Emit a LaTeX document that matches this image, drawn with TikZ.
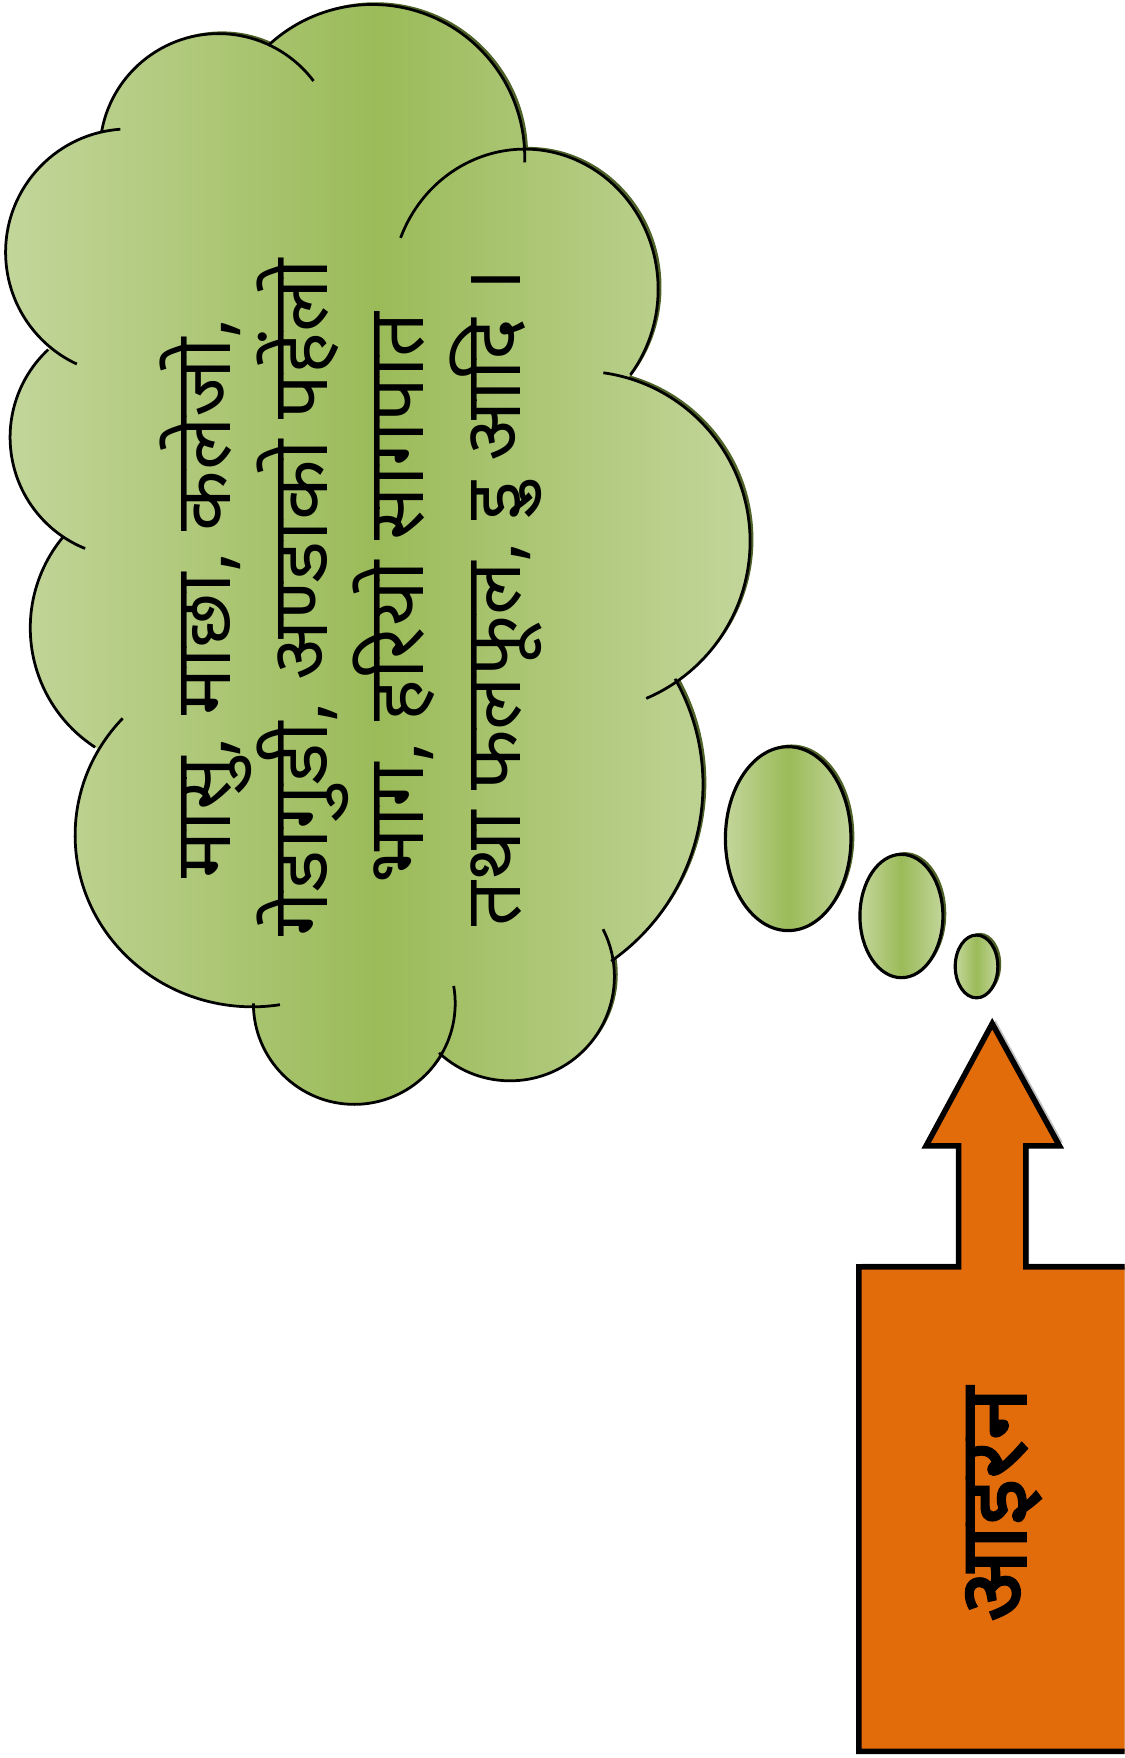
\documentclass[tikz,border=0pt]{standalone}
\usepackage{fontspec}
\newfontfamily\deva[Script=Devanagari]{Noto Sans}
\newfontfamily\devabold[Script=Devanagari, FakeBold=2.5]{Noto Sans}
\definecolor{cloudlight}{HTML}{C3D69B}
\definecolor{clouddark}{HTML}{9BBB59}
\definecolor{cloudshadow}{HTML}{4F6228}
\definecolor{ironorange}{HTML}{E36C0A}
\definecolor{ironshadow}{HTML}{BFBFBF}

\begin{document}
\begin{tikzpicture}[x=0.1mm, y=-0.1mm,
  lobe/.style={line width=0.7pt},
  puff/.style={draw=black, line width=0.8pt, left color=cloudlight, right color=cloudlight, middle color=clouddark}]
  \clip (0,0) rectangle (1003,1568);
  \def\lobes{(195,136) circle (106) (332,140) circle (136) (468,258) ellipse [x radius=119, y radius=125]
    (517,483) circle (152) (435,700) circle (192) (455,871) circle (93) (316,895) circle (90)
    (225,745) ellipse [x radius=158, y radius=153] (154,560) circle (127) (116,390) circle (107)
    (115,225) circle (110) (320,480) circle (210) (250,290) circle (105)}
  \def\ironpath{(766,1562) -- (766,1130) -- (855,1130) -- (855,1022) -- (826,1022) -- (885,913)
    -- (945,1022) -- (915,1022) -- (915,1130) -- (1012,1130) -- (1012,1562) -- cycle}
  \fill[cloudshadow, shift={(3,-2)}] \lobes;
  \path[left color=cloudlight, right color=cloudlight, middle color=clouddark] \lobes;
  \draw[lobe] ([shift={(115,225)}]-94:110) arc[start angle=-94, end angle=-245, radius=110];
  \draw[lobe] ([shift={(116,390)}]-133:107) arc[start angle=-133, end angle=-248, radius=107];
  \draw[lobe] ([shift={(154,560)}]-140:127) arc[start angle=-140, end angle=-237, radius=127];
  \draw[lobe] ([shift={(225,745)}]-137:158 and 153) arc[start angle=-137, end angle=-279, x radius=158, y radius=153];
  \draw[lobe] ([shift={(316,895)}]-180:90) arc[start angle=-180, end angle=-370, radius=90];
  \draw[lobe] ([shift={(455,871)}]-227:93) arc[start angle=-227, end angle=-387, radius=93];
  \draw[lobe] ([shift={(435,700)}]55:192) arc[start angle=55, end angle=-29.5, radius=192];
  \draw[lobe] ([shift={(517,483)}]-82:152) arc[start angle=-82, end angle=67, radius=152];
  \draw[lobe] ([shift={(468,258)}]-158.5:119 and 125) arc[start angle=-158.5, end angle=37.6, x radius=119, y radius=125];
  \draw[lobe] ([shift={(332,140)}]-133:136) arc[start angle=-133, end angle=2, radius=136];
  \draw[lobe] ([shift={(195,136)}]-170:106) arc[start angle=-170, end angle=-37, radius=106];
  \node[rotate=90, align=center, font=\deva\fontsize{20}{24.5}\selectfont] (foods) at (313,533)
    {मासु, माछा, कलेजो,\\ गेडागुडी, अण्डाको पहेंलो\\ भाग, हरियो सागपात\\ तथा फलफूल, इु आदि ।};
  \foreach \cx/\cy/\rx/\ry in {703/748/56/82, 804/817/37/55, 871/862/19/28} {
    \fill[cloudshadow] (\cx+3,\cy-2) ellipse [x radius=\rx, y radius=\ry];
    \draw[puff] (\cx,\cy) ellipse [x radius=\rx, y radius=\ry];
  }
  \fill[ironshadow, shift={(3,-3)}] \ironpath;
  \draw[fill=ironorange, line width=1.4pt] \ironpath;
  \node[rotate=90, font=\devabold\fontsize{24}{28}\selectfont] (iron) at (895,1342) {आइरन};
\end{tikzpicture}
\end{document}
